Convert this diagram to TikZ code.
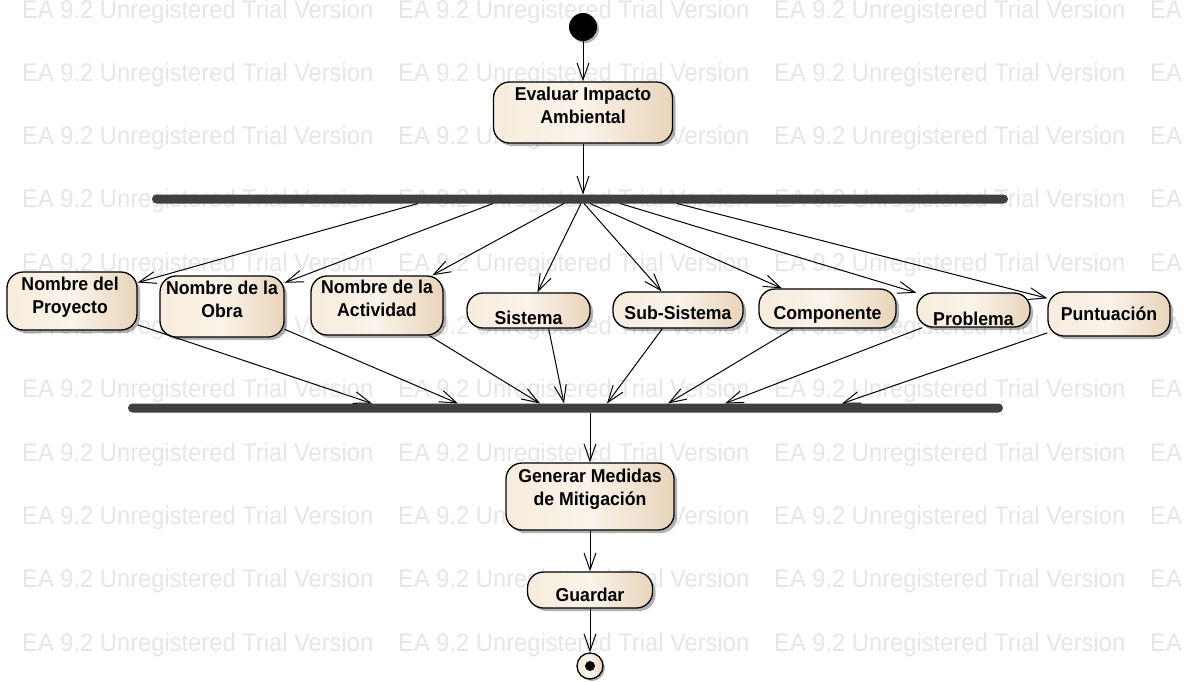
\documentclass[tikz,border=0pt]{standalone}
\usepackage{fontspec}
\setmainfont{Liberation Sans}
\usetikzlibrary{arrows.meta,shadows}
\definecolor{wmark}{HTML}{E6E6E6}
\definecolor{barc}{HTML}{404040}
\definecolor{fillL}{HTML}{F7ECDD}
\definecolor{fillM}{HTML}{FAF3EA}
\definecolor{fillR}{HTML}{E8D4BA}
\begin{document}
\begin{tikzpicture}[x=1pt,y=-1pt,
  wm/.style={anchor=base west, inner sep=0pt, text=wmark, xscale=0.93, transform shape,
    font=\fontsize{25.5}{26}\selectfont},
  act/.style={draw=black, line width=1.3pt, rounded corners=16pt,
    left color=fillL, right color=fillR, middle color=fillM, inner sep=0pt,
    drop shadow={shadow xshift=3pt, shadow yshift=-3pt, fill=black, opacity=0.3}},
  txt/.style={font=\fontsize{18.6}{23}\selectfont\bfseries, align=center, inner sep=0pt,
    text height=13.5pt, text depth=4pt, xscale=0.95, transform shape},
  bar/.style={fill=barc, inner sep=0pt, rounded corners=4.5pt, minimum height=9pt},
  arr/.style={draw=black, line width=1pt, -{Straight Barb[length=17pt,width=12pt]}}
]
\useasboundingbox (0,0) rectangle (1187,681);
\fill[white] (0,0) rectangle (1187,681);

% background lettering
\foreach \k in {0,...,10}
  \foreach \xx in {22,398,774,1150}
    \node[wm] (wm-\k-\xx) at (\xx, 18+63.3*\k) {EA 9.2 Unregistered Trial Version};

% initial and final states
\node[circle, fill=black, minimum size=28pt, inner sep=0pt,
  drop shadow={shadow xshift=2pt, shadow yshift=-2pt, fill=black, opacity=0.3}] (ini) at (583,27) {};
\node[circle, draw=black, line width=1.3pt, left color=fillL, right color=fillR, middle color=fillM,
  minimum size=26pt, inner sep=0pt,
  drop shadow={shadow xshift=2pt, shadow yshift=-2pt, fill=black, opacity=0.3}] (fin) at (590,666) {};
\node[circle, fill=black, minimum size=10pt, inner sep=0pt] (findot) at (fin.center) {};

% actions
\node[act, minimum width=179pt, minimum height=61pt,
  label={[txt,yshift=-6.3pt]center:{Evaluar Impacto\\Ambiental}}] (eva) at (583,112.5) {};

\node[act, minimum width=130pt, minimum height=58pt,
  label={[txt,yshift=-7.8pt,xshift=-2pt]center:{Nombre del\\Proyecto}}] (pro) at (72,301) {};
\node[act, minimum width=124pt, minimum height=61pt,
  label={[txt,yshift=-6.3pt]center:{Nombre de la\\Obra}}] (obr) at (222,306.5) {};
\node[act, minimum width=132pt, minimum height=59pt,
  label={[txt,yshift=-6pt]center:{Nombre de la\\Actividad}}] (acv) at (377,305.5) {};
\node[act, minimum width=123pt, minimum height=35pt,
  label={[txt,yshift=-9.3pt]center:Sistema}] (sis) at (528.5,310.5) {};
\node[act, minimum width=130pt, minimum height=36pt,
  label={[txt,yshift=-4.8pt]center:Sub-Sistema}] (sub) at (678,310) {};
\node[act, minimum width=137pt, minimum height=39pt,
  label={[txt,yshift=-6.3pt]center:Componente}] (cmp) at (827.5,308.5) {};
\node[act, minimum width=113pt, minimum height=34pt,
  label={[txt,yshift=-10.8pt]center:Problema}] (prb) at (973.5,310) {};
\node[act, minimum width=122pt, minimum height=44pt,
  label={[txt,yshift=-1.8pt]center:Puntuación}] (pun) at (1109,314) {};

\node[act, minimum width=168pt, minimum height=67pt,
  label={[txt,yshift=-3.8pt]center:{Generar Medidas\\de Mitigación}}] (gen) at (590,496.5) {};
\node[act, minimum width=125pt, minimum height=36pt,
  label={[txt,yshift=-6.8pt]center:Guardar}] (gua) at (590,590) {};

% fork and join bars
\node[bar, minimum width=856pt] (fork) at (580,199) {};
\node[bar, minimum width=875pt] (join) at (565.5,408) {};

% attachment points on the bars
\coordinate (fk0) at (583,194.5);
\coordinate (f1) at (418,203.5);
\coordinate (f2) at (493,203.5);
\coordinate (f3) at (564,203.5);
\coordinate (f4) at (581,203.5);
\coordinate (f5) at (584,203.5);
\coordinate (f6) at (590,203.5);
\coordinate (f7) at (620,203.5);
\coordinate (f8) at (677,203.5);

\coordinate (j1) at (372,403.5);
\coordinate (j2) at (458,403.5);
\coordinate (j3) at (540,403.5);
\coordinate (j4) at (564,403.5);
\coordinate (j5) at (607,403.5);
\coordinate (j6) at (668,403.5);
\coordinate (j7) at (725,403.5);
\coordinate (j8) at (842,403.5);
\coordinate (j0) at (590,412.5);

% control flow
\draw[arr] (ini) -- (eva);
\draw[arr] (eva) -- (fk0);

\draw[arr] (f1) -- (pro);
\draw[arr] (f2) -- (obr);
\draw[arr] (f3) -- (acv);
\draw[arr] (f4) -- (sis);
\draw[arr] (f5) -- (sub);
\draw[arr] (f6) -- (cmp);
\draw[arr] (f7) -- (prb);
\draw[arr] (f8) -- (pun);

\draw[arr] (pro.-20) -- (j1);
\draw[arr] (obr.-20) -- (j2);
\draw[arr] (acv.-30) -- (j3);
\draw[arr] (sis.-42) -- (j4);
\draw[arr] (sub.-130) -- (j5);
\draw[arr] (cmp.-150.5) -- (j6);
\draw[arr] (prb.-161.4) -- (j7);
\draw[arr] (pun.-163.6) -- (j8);

\draw[arr] (j0) -- (gen);
\draw[arr] (gen) -- (gua);
\draw[arr] (gua) -- (fin);
\end{tikzpicture}
\end{document}
